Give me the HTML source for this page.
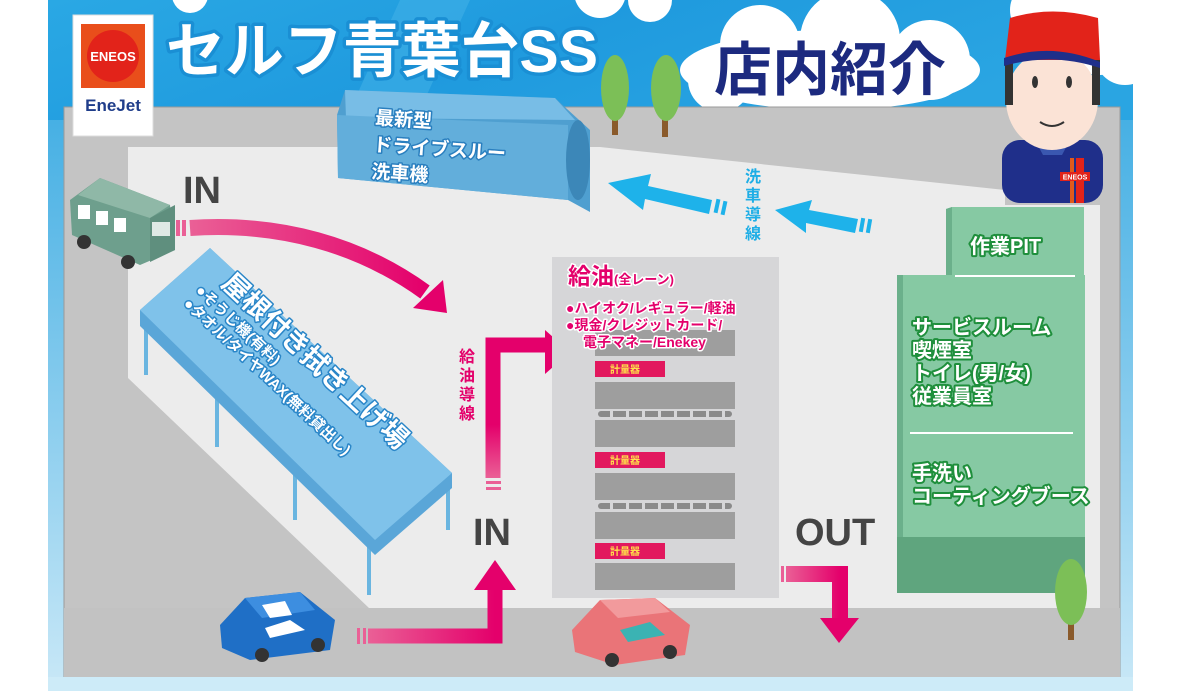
<!DOCTYPE html>
<html><head><meta charset="utf-8"><style>
html,body{margin:0;padding:0;background:#fff;}
svg{display:block;}
text{font-family:"Liberation Sans","Noto Sans CJK JP",sans-serif;font-weight:bold;}
.ws{paint-order:stroke;stroke-linejoin:round;}
</style></head><body>
<svg width="1200" height="691" viewBox="0 0 1200 691" xmlns="http://www.w3.org/2000/svg">
<defs>
<linearGradient id="sky" x1="0" y1="0" x2="1" y2="0.3">
<stop offset="0" stop-color="#2aa8e4"/><stop offset="0.5" stop-color="#1f9ade"/><stop offset="1" stop-color="#2aa5e2"/></linearGradient>
<linearGradient id="frameL" x1="0" y1="0" x2="0" y2="1">
<stop offset="0" stop-color="#2ba4e0"/><stop offset="1" stop-color="#c9e8f7"/></linearGradient>
<linearGradient id="pk" x1="0" y1="0" x2="1" y2="0">
<stop offset="0" stop-color="#ea6096"/><stop offset="1" stop-color="#e4006b"/></linearGradient>
<linearGradient id="pkv" x1="0" y1="1" x2="0" y2="0">
<stop offset="0" stop-color="#ea6096"/><stop offset="0.4" stop-color="#e4006b"/></linearGradient>
</defs>
<rect width="1200" height="691" fill="#fff"/>
<rect x="48" y="0" width="1085" height="691" fill="url(#frameL)"/>
<rect x="48" y="0" width="1085" height="120" fill="url(#sky)"/>
<polygon points="400,0 470,0 420,110 350,110" fill="#45b3e8" opacity="0.5"/>
<polygon points="820,0 880,0 830,110 770,110" fill="#45b3e8" opacity="0.5"/>
<g fill="#fff">
<circle cx="10" cy="0" r="22"/><circle cx="190" cy="-5" r="18"/>
<circle cx="600" cy="-8" r="26"/><circle cx="650" cy="0" r="22"/>
<ellipse cx="830" cy="70" rx="150" ry="40"/><circle cx="760" cy="45" r="40"/><circle cx="850" cy="40" r="50"/><circle cx="930" cy="60" r="40"/><circle cx="720" cy="80" r="32"/>
<circle cx="1040" cy="10" r="30"/><circle cx="1100" cy="30" r="45"/><circle cx="1125" cy="55" r="30"/>
<rect x="1133" y="0" width="67" height="691"/>
</g>
<rect x="64" y="107" width="1056" height="570" fill="#c4c4c4"/>
<rect x="64" y="107" width="1056" height="570" fill="none" stroke="#9a9a9a" stroke-width="1"/>
<polygon points="128,147 600,147 1005,190 1005,205 1100,205 1100,608 369,608 128,378" fill="#ececec"/>
<rect x="64" y="608" width="1056" height="69" fill="#c2c2c2"/>
<rect x="48" y="677" width="1085" height="14" fill="#cdebf8"/>
<g><rect x="612" y="105" width="6" height="30" fill="#8a5a2b"/><ellipse cx="615" cy="88" rx="14" ry="33" fill="#7cbf57"/>
<rect x="662" y="105" width="6" height="32" fill="#8a5a2b"/><ellipse cx="666" cy="88" rx="15" ry="33" fill="#7cbf57"/></g>
<rect x="73" y="15" width="80" height="121" fill="#fff" stroke="#ddd"/>
<rect x="81" y="24" width="64" height="64" fill="#e94e1b"/>
<circle cx="113" cy="56" r="26" fill="#e2231a"/>
<text x="113" y="61" font-size="13" fill="#fff" text-anchor="middle">ENEOS</text>
<text x="113" y="111" font-size="17" fill="#1f3d8a" text-anchor="middle">EneJet</text>
<text x="166" y="72" font-size="60" fill="#fff" stroke="#1a8fd4" stroke-width="7" class="ws" textLength="432" lengthAdjust="spacingAndGlyphs">セルフ青葉台SS</text>
<text x="714" y="90" font-size="58" fill="#1c2a7f" stroke="#fff" stroke-width="4" class="ws">店内紹介</text>
<g>
<polygon points="345,90 555,98 590,130 590,212 568,200 338,178 337,115" fill="#4f9fd0"/>
<polygon points="345,90 555,98 575,120 346,118" fill="#78bde6"/>
<polygon points="337,115 568,125 568,200 338,178" fill="#62aedb"/>
<ellipse cx="578" cy="160" rx="12" ry="40" fill="#3c87b8"/>
<g transform="rotate(4 375 120)" fill="#fff" stroke="#2a7fbf" stroke-width="3" class="ws" font-size="19">
<text x="375" y="124">最新型</text><text x="375" y="151">ドライブスルー</text><text x="375" y="178">洗車機</text></g>
</g>
<g fill="#1eb2ea">
<polygon points="608,183 651,174 648,186 712,200 709,214 645,199 643,210"/>
<rect x="715" y="199" width="4" height="14" transform="rotate(12 717 206)"/><rect x="722" y="201" width="4" height="14" transform="rotate(12 724 208)"/>
<polygon points="775,210 812,200 809,210 858,219 855,233 806,223 806,233"/>
<rect x="860" y="218" width="4" height="14" transform="rotate(10 862 225)"/><rect x="867" y="219" width="4" height="14" transform="rotate(10 869 226)"/>
</g>
<g font-size="16" fill="#1eaee6" text-anchor="middle"><text x="753" y="182">洗</text><text x="753" y="201">車</text><text x="753" y="220">導</text><text x="753" y="239">線</text></g>
<g>
<rect x="1002" y="140" width="101" height="63" rx="18" fill="#1f2f8a"/>
<polygon points="1035,140 1070,140 1062,155 1043,155" fill="#3a57b0"/>
<rect x="1070" y="158" width="4" height="45" fill="#e05a1b"/><rect x="1076" y="158" width="8" height="45" fill="#e2231a"/>
<rect x="1060" y="172" width="30" height="9" fill="#e2231a"/><text x="1075" y="179.5" font-size="7" fill="#fff" text-anchor="middle">ENEOS</text>
<ellipse cx="1052" cy="100" rx="46" ry="50" fill="#fbe3d6"/>
<rect x="1005" y="60" width="8" height="45" fill="#333"/><rect x="1092" y="60" width="8" height="45" fill="#333"/>
<ellipse cx="1035" cy="82" rx="3" ry="6" fill="#333"/><ellipse cx="1069" cy="82" rx="3" ry="6" fill="#333"/>
<path d="M1040,122 Q1052,130 1064,122" stroke="#333" stroke-width="2" fill="none"/>
<path d="M1005,60 L1010,18 Q1052,5 1098,18 L1100,60 Z" fill="#e2231a"/>
<path d="M1004,58 Q1052,42 1100,62 L1100,68 Q1052,52 1004,66 Z" fill="#1f2f8a"/>
</g>
<g>
<polygon points="70,200 100,178 170,205 175,250 140,265 72,235" fill="#6e9f8d"/>
<polygon points="100,178 170,205 150,218 78,195" fill="#8fb8a7"/>
<polygon points="150,218 175,205 175,250 150,262" fill="#5f8f7e"/>
<rect x="78" y="205" width="12" height="14" fill="#fff"/><rect x="96" y="211" width="12" height="14" fill="#fff"/><rect x="114" y="218" width="12" height="14" fill="#fff"/>
<rect x="152" y="222" width="18" height="14" fill="#dfe9e5"/>
<circle cx="84" cy="242" r="7" fill="#333"/><circle cx="128" cy="262" r="7" fill="#333"/>
</g>
<g>
<line x1="146" y1="315" x2="146" y2="375" stroke="#6ab5e0" stroke-width="4"/>
<line x1="217" y1="380" x2="217" y2="447" stroke="#6ab5e0" stroke-width="4"/>
<line x1="295" y1="450" x2="295" y2="520" stroke="#6ab5e0" stroke-width="4"/>
<line x1="369" y1="540" x2="369" y2="595" stroke="#6ab5e0" stroke-width="4"/>
<line x1="448" y1="475" x2="448" y2="530" stroke="#6ab5e0" stroke-width="4"/>
<polygon points="140,310 210,248 452,473 452,488 375,555 140,326" fill="#5aa6d8"/>
<polygon points="140,310 210,248 452,473 375,540" fill="#7fc2ea"/>
<g transform="translate(220,285) rotate(43)" fill="#fff" stroke="#2a86c8" stroke-width="3" class="ws">
<text x="0" y="0" font-size="27">屋根付き拭き上げ場</text>
<text x="-14" y="22" font-size="15">●そうじ機(有料)</text>
<text x="-14" y="40" font-size="15">●タオル/タイヤWAX(無料貸出し)</text>
</g>
</g>
<text x="183" y="203" font-size="38" fill="#444">IN</text>
<text x="473" y="545" font-size="38" fill="#444">IN</text>
<text x="795" y="545" font-size="38" fill="#444">OUT</text>
<path d="M190,228 C280,222 360,245 425,292" stroke="url(#pk)" stroke-width="16" fill="none"/>
<rect x="176" y="220" width="4" height="16" fill="#ea6096"/><rect x="182" y="220" width="4" height="16" fill="#ea6096"/>
<polygon points="447,313 413,308 443,280" fill="#e4006b"/>
<path d="M493,478 L493,345 L550,345" stroke="url(#pkv)" stroke-width="15" fill="none"/>
<rect x="486" y="481" width="15" height="3" fill="#ea6096"/><rect x="486" y="487" width="15" height="3" fill="#ea6096"/>
<polygon points="545,330 570,352 545,374" fill="#e4006b"/>
<g font-size="16" fill="#e4006b" text-anchor="middle"><text x="467" y="362">給</text><text x="467" y="381">油</text><text x="467" y="400">導</text><text x="467" y="419">線</text></g>
<path d="M368,636 L495,636 L495,588" stroke="url(#pk)" stroke-width="15" fill="none"/>
<rect x="357" y="628" width="3" height="16" fill="#ea6096"/><rect x="363" y="628" width="3" height="16" fill="#ea6096"/>
<polygon points="474,590 495,560 516,590" fill="#e4006b"/>
<path d="M786,574 L840,574 L840,620" stroke="url(#pk)" stroke-width="16" fill="none"/>
<rect x="776" y="566" width="3" height="16" fill="#ea6096"/><rect x="781" y="566" width="3" height="16" fill="#ea6096"/>
<polygon points="820,618 859,618 839,643" fill="#e4006b"/>
<rect x="552" y="257" width="227" height="341" fill="#d6d6d8"/>
<g fill="#9e9e9e">
<rect x="595" y="330" width="140" height="26"/><rect x="595" y="382" width="140" height="27"/><rect x="595" y="420" width="140" height="27"/>
<rect x="595" y="473" width="140" height="27"/><rect x="595" y="512" width="140" height="27"/><rect x="595" y="563" width="140" height="27"/>
</g>
<g fill="#8a8a8a">
<rect x="598" y="411" width="134" height="6" rx="3"/><rect x="598" y="503" width="134" height="6" rx="3"/>
</g>
<g fill="#d6d6d8"><rect x="610" y="410" width="3" height="8"/><rect x="626" y="410" width="3" height="8"/><rect x="642" y="410" width="3" height="8"/><rect x="658" y="410" width="3" height="8"/><rect x="674" y="410" width="3" height="8"/><rect x="690" y="410" width="3" height="8"/><rect x="706" y="410" width="3" height="8"/><rect x="722" y="410" width="3" height="8"/>
<rect x="610" y="502" width="3" height="8"/><rect x="626" y="502" width="3" height="8"/><rect x="642" y="502" width="3" height="8"/><rect x="658" y="502" width="3" height="8"/><rect x="674" y="502" width="3" height="8"/><rect x="690" y="502" width="3" height="8"/><rect x="706" y="502" width="3" height="8"/><rect x="722" y="502" width="3" height="8"/></g>
<g fill="#e2185e"><rect x="595" y="361" width="70" height="16"/><rect x="595" y="452" width="70" height="16"/><rect x="595" y="543" width="70" height="16"/></g>
<g font-size="10" fill="#ffe14a"><text x="610" y="373">計量器</text><text x="610" y="464">計量器</text><text x="610" y="555">計量器</text></g>
<g fill="#e4006b" stroke="#fff" stroke-width="3" class="ws">
<text x="568" y="284" font-size="23">給油<tspan font-size="13">(全レーン)</tspan></text>
<text x="566" y="313" font-size="14">●ハイオク/レギュラー/軽油</text>
<text x="566" y="330" font-size="14">●現金/クレジットカード/</text>
<text x="583" y="347" font-size="14">電子マネー/Enekey</text>
</g>
<polygon points="946,209 952,207 1084,207 1084,280 946,280" fill="#86c9a3"/>
<polygon points="946,209 952,207 952,280 946,280" fill="#6bb08b"/>
<rect x="897" y="275" width="188" height="318" fill="#86c9a3"/>
<rect x="897" y="275" width="6" height="318" fill="#6bb08b"/>
<rect x="897" y="537" width="188" height="56" fill="#5fa57e"/>
<line x1="955" y1="276" x2="1075" y2="276" stroke="#fff" stroke-width="2"/>
<line x1="910" y1="433" x2="1073" y2="433" stroke="#fff" stroke-width="2"/>
<g fill="#fff" stroke="#1f8f3c" stroke-width="4" class="ws" font-size="20">
<text x="970" y="253">作業PIT</text>
<text x="912" y="334">サービスルーム</text>
<text x="912" y="357">喫煙室</text>
<text x="912" y="380">トイレ(男/女)</text>
<text x="912" y="403">従業員室</text>
<text x="912" y="480">手洗い</text>
<text x="912" y="503">コーティングブース</text>
</g>
<rect x="1068" y="610" width="6" height="30" fill="#8a5a2b"/><ellipse cx="1071" cy="592" rx="16" ry="33" fill="#7cbf57"/>
<g>
<polygon points="220,625 245,598 300,592 335,620 330,650 250,660 222,648" fill="#1f6fc6"/>
<polygon points="245,598 300,592 315,610 262,618" fill="#3d8ee0"/>
<polygon points="262,605 285,601 292,615 270,618" fill="#fff"/>
<polygon points="265,628 290,620 305,630 270,638" fill="#fff"/>
<circle cx="262" cy="655" r="7" fill="#333"/><circle cx="318" cy="645" r="7" fill="#333"/>
</g>
<g>
<polygon points="572,630 600,600 655,598 690,625 685,655 615,665 575,652" fill="#ea7478"/>
<polygon points="600,600 655,598 670,612 618,618" fill="#f29a9c"/>
<polygon points="620,630 650,622 665,635 628,642" fill="#3bb3b3"/>
<circle cx="612" cy="660" r="7" fill="#333"/><circle cx="670" cy="652" r="7" fill="#333"/>
</g>
</svg>
</body></html>
